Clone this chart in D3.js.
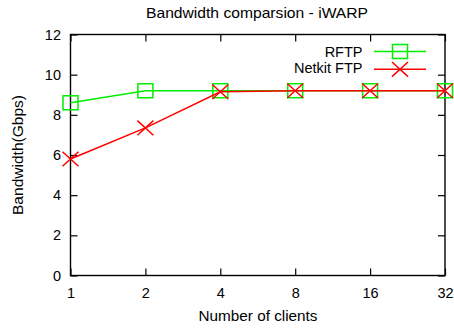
<!DOCTYPE html>
<html>
<head>
<meta charset="utf-8" />
<title>Bandwidth comparsion - iWARP</title>
<style>
  body { margin: 0; background: #fff; }
  svg { font-family: "Liberation Sans", Arial, sans-serif; }
</style>
</head>
<body>
<svg id="chart" width="454" height="329"></svg>
<script src="https://d3js.org/d3.v7.min.js"></script>
<script>
  const clients = [1, 2, 4, 8, 16, 32];
  const rftp = [8.6, 9.2, 9.2, 9.2, 9.2, 9.2];
  const netkit = [5.8, 7.35, 9.15, 9.2, 9.2, 9.2];
  const yTicks = [0, 2, 4, 6, 8, 10, 12];

  const svg = d3.select("#chart");
  const plotL = 70.5, plotR = 445, plotT = 34.5, plotB = 275.5;

  const x = d3.scaleLog().base(2).domain([1, 32]).range([plotL, plotR]);
  const y = d3.scaleLinear().domain([0, 12]).range([plotB, plotT]);

  // ticks pointing inward on all four sides
  const tk = 7;
  svg.append("g").attr("transform", `translate(0,${plotB})`)
    .call(d3.axisBottom(x).tickValues(clients).tickFormat(d3.format("d")).tickSize(-tk).tickPadding(12));
  svg.append("g").attr("transform", `translate(0,${plotT})`)
    .call(d3.axisTop(x).tickValues(clients).tickFormat("").tickSize(-tk));
  svg.append("g").attr("transform", `translate(${plotL},0)`)
    .call(d3.axisLeft(y).tickValues(yTicks).tickSize(-tk).tickPadding(9.5));
  svg.append("g").attr("transform", `translate(${plotR},0)`)
    .call(d3.axisRight(y).tickValues(yTicks).tickFormat("").tickSize(-tk));

  svg.selectAll(".domain").remove();
  svg.selectAll(".tick line").attr("stroke", "#000").attr("stroke-width", 1.2);
  svg.selectAll(".tick text").attr("font-size", 14.5).attr("fill", "#000")
    .style("font-family", "'Liberation Sans', Arial, sans-serif");

  svg.append("rect").attr("x", plotL).attr("y", plotT)
    .attr("width", plotR - plotL).attr("height", plotB - plotT)
    .attr("fill", "none").attr("stroke", "#000").attr("stroke-width", 1.4);

  // titles
  svg.append("text").attr("x", 257).attr("y", 17.5).attr("text-anchor", "middle")
    .attr("font-size", 14.5).attr("textLength", 222).attr("lengthAdjust", "spacingAndGlyphs")
    .text("Bandwidth comparsion - iWARP");
  svg.append("text").attr("x", 258).attr("y", 320.5).attr("text-anchor", "middle")
    .attr("font-size", 14.5).attr("textLength", 119).attr("lengthAdjust", "spacingAndGlyphs")
    .text("Number of clients");
  svg.append("text").attr("transform", "translate(22.5,155) rotate(-90)")
    .attr("text-anchor", "middle").attr("font-size", 15)
    .attr("textLength", 120).attr("lengthAdjust", "spacingAndGlyphs")
    .text("Bandwidth(Gbps)");

  const line = d3.line().x((d, i) => x(clients[i])).y(d => y(d));
  const sqW = 15, sqH = 14, crX = 8, crY = 7.3;

  function drawSquare(g, cx, cy, color) {
    g.append("rect").attr("x", cx - sqW / 2).attr("y", cy - sqH / 2)
      .attr("width", sqW).attr("height", sqH)
      .attr("fill", "none").attr("stroke", color).attr("stroke-width", 1.5);
  }
  function drawCross(g, cx, cy, color) {
    g.append("path")
      .attr("d", `M${cx - crX},${cy - crY}L${cx + crX},${cy + crY}M${cx - crX},${cy + crY}L${cx + crX},${cy - crY}`)
      .attr("stroke", color).attr("stroke-width", 1.5);
  }

  const green = "#00ee00", red = "#ff0000";

  svg.append("path").datum(rftp).attr("d", line)
    .attr("fill", "none").attr("stroke", green).attr("stroke-width", 1.5);
  const gR = svg.append("g");
  rftp.forEach((v, i) => drawSquare(gR, x(clients[i]), y(v), green));

  svg.append("path").datum(netkit).attr("d", line)
    .attr("fill", "none").attr("stroke", red).attr("stroke-width", 1.5);
  const gN = svg.append("g");
  netkit.forEach((v, i) => drawCross(gN, x(clients[i]), y(v), red));

  // legend
  const legend = [
    { name: "RFTP", color: green, mark: drawSquare, ly: 51.5, ty: 56.7 },
    { name: "Netkit FTP", color: red, mark: drawCross, ly: 69.3, ty: 72.9 }
  ];
  legend.forEach(d => {
    svg.append("text").attr("x", 362.5).attr("y", d.ty)
      .attr("text-anchor", "end").attr("font-size", 14.5).text(d.name);
    svg.append("line").attr("x1", 374).attr("x2", 426).attr("y1", d.ly).attr("y2", d.ly)
      .attr("stroke", d.color).attr("stroke-width", 1.5);
    d.mark(svg, 400, d.ly, d.color);
  });
</script>
</body>
</html>
